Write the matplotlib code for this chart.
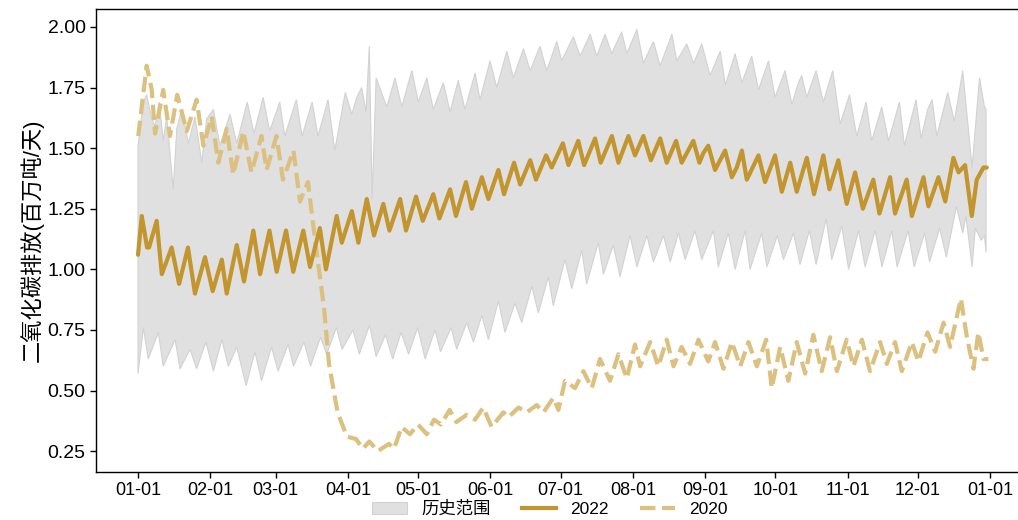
import numpy as np
import matplotlib
matplotlib.use("Agg")
import matplotlib.pyplot as plt
from matplotlib.patches import Patch
from matplotlib.lines import Line2D

plt.rcParams["font.family"] = ["Liberation Sans", "Noto Sans CJK SC", "DejaVu Sans"]

# daily CO2 emissions, Mt/day, x = day of year
month_labels = ["01-01", "02-01", "03-01", "04-01", "05-01", "06-01", "07-01",
                "08-01", "09-01", "10-01", "11-01", "12-01", "01-01"]
month_days = [0, 31, 59, 90, 120, 151, 181, 212, 243, 273, 304, 334, 365]

hist_hi_day = [0, 2.3, 3.7, 5.9, 7.3, 9.1, 10.8, 12.3, 15.1, 16.6, 18.7, 21.6, 24.4, 27.3,
               29.4, 32.3, 35.1, 39.4, 42.3, 46.8, 49.7, 53.6, 56.4, 60.7, 62.9, 67.8,
               70.3, 74.6, 77.1, 81.4, 84.3, 88.8, 91.6, 93.7, 95.8, 97.7, 99.1, 100.3,
               102.0, 106.6, 110.1, 113.0, 117.3, 120.1, 123.7, 126.5, 130.8, 133.7,
               137.2, 140.1, 144.4, 146.5, 150.8, 153.7, 158.0, 160.8, 165.1, 168.0,
               172.2, 175.1, 179.4, 181.5, 186.5, 189.4, 193.7, 196.5, 200.1, 202.9,
               207.2, 209.4, 213.7, 216.5, 220.8, 223.7, 228.7, 230.8, 235.1, 238.0,
               241.5, 245.1, 249.4, 251.6, 255.8, 258.7, 262.9, 265.8, 270.1, 272.9,
               277.2, 280.1, 282.9, 284.3, 286.5, 290.5, 293.6, 297.6, 300.8, 304.8,
               307.9, 311.9, 314.3, 318.6, 321.5, 326.2, 328.3, 333.3, 335.5, 338.3,
               340.2, 342.2, 346.9, 349.7, 353.3, 357.3, 360.5, 362.6, 363.3]
hist_hi = [1.51, 1.69, 1.72, 1.62, 1.59, 1.69, 1.53, 1.63, 1.33, 1.58, 1.66, 1.52, 1.63, 1.44,
           1.62, 1.66, 1.51, 1.64, 1.52, 1.69, 1.56, 1.71, 1.57, 1.69, 1.55, 1.70,
           1.55, 1.69, 1.55, 1.70, 1.49, 1.73, 1.64, 1.71, 1.75, 1.65, 1.92, 1.29,
           1.79, 1.67, 1.79, 1.67, 1.82, 1.69, 1.79, 1.66, 1.77, 1.65,
           1.78, 1.66, 1.81, 1.70, 1.86, 1.75, 1.90, 1.79, 1.91, 1.82,
           1.92, 1.82, 1.94, 1.86, 1.96, 1.88, 1.97, 1.88, 1.97, 1.89,
           1.98, 1.89, 1.99, 1.85, 1.94, 1.84, 1.97, 1.86, 1.93, 1.85,
           1.93, 1.80, 1.90, 1.76, 1.89, 1.77, 1.88, 1.74, 1.86, 1.71,
           1.82, 1.68, 1.77, 1.80, 1.71, 1.82, 1.69, 1.82, 1.60, 1.72,
           1.55, 1.69, 1.53, 1.67, 1.53, 1.69, 1.51, 1.70, 1.54, 1.66,
           1.70, 1.55, 1.73, 1.61, 1.82, 1.42, 1.79, 1.67, 1.66]

hist_lo_day = [0, 2.3, 4.4, 8.7, 10.8, 15.9, 18.0, 22.3, 25.1, 29.1, 32.3, 35.9, 38.7, 42.3,
               46.3, 50.1, 52.9, 57.2, 60.0, 64.3, 66.6, 71.1, 73.9, 78.2, 80.8, 85.0,
               87.4, 92.1, 94.8, 99.2, 102.0, 106.0, 109.1, 112.7, 115.9, 119.8, 123.0,
               127.2, 129.6, 134.1, 136.5, 140.8, 143.7, 147.3, 150.1, 154.4, 157.2,
               161.5, 164.4, 168.7, 171.5, 175.8, 177.9, 182.9, 185.8, 190.1, 192.2,
               197.2, 199.4, 203.6, 206.5, 210.8, 213.7, 218.0, 220.8, 225.1, 228.0,
               231.5, 234.4, 238.6, 241.5, 246.5, 248.6, 252.9, 255.8, 260.1, 262.2,
               267.2, 269.4, 273.9, 276.5, 280.8, 283.6, 287.6, 290.5, 294.8, 297.2,
               301.5, 304.4, 308.7, 311.5, 315.8, 318.7, 322.9, 325.2, 329.9, 332.5,
               337.0, 339.1, 343.4, 346.3, 350.6, 353.3, 354.7, 357.3, 358.7, 361.2,
               362.6, 363.3]
hist_lo = [0.57, 0.76, 0.63, 0.74, 0.60, 0.71, 0.59, 0.67, 0.59, 0.70, 0.58, 0.71, 0.60, 0.68,
           0.52, 0.66, 0.54, 0.68, 0.58, 0.69, 0.60, 0.70, 0.60, 0.72, 0.65, 0.76,
           0.67, 0.75, 0.65, 0.77, 0.64, 0.73, 0.63, 0.74, 0.65, 0.76, 0.63,
           0.75, 0.66, 0.76, 0.67, 0.78, 0.70, 0.81, 0.71, 0.87, 0.74,
           0.86, 0.78, 0.93, 0.82, 0.97, 0.85, 1.04, 0.92, 1.08, 0.94,
           1.11, 0.98, 1.10, 0.97, 1.14, 1.01, 1.14, 1.03, 1.14, 1.03,
           1.15, 1.04, 1.16, 1.04, 1.16, 1.01, 1.15, 1.00, 1.16, 1.00,
           1.15, 1.01, 1.14, 1.04, 1.15, 1.02, 1.16, 1.02, 1.21, 1.04,
           1.18, 1.00, 1.16, 1.01, 1.16, 1.01, 1.16, 1.01, 1.16, 1.01,
           1.15, 1.03, 1.17, 1.05, 1.26, 1.15, 1.22, 1.01, 1.17, 1.12,
           1.14, 1.07]

y2022_day = [0, 1.6, 3.9, 4.7, 8.0, 10.2, 14.4, 17.6, 21.4, 24.4, 28.7, 32.0, 35.9, 38.0,
             42.3, 45.4, 49.4, 52.3, 56.3, 59.4, 63.4, 66.5, 70.8, 73.7, 77.9, 80.5,
             85.1, 87.3, 91.6, 94.4, 98.0, 101.1, 105.1, 107.7, 112.3, 114.8, 119.1,
             122.0, 126.5, 129.1, 133.7, 136.2, 140.5, 143.0, 147.3, 150.1, 154.4,
             156.8, 161.1, 163.7, 168.0, 170.5, 174.8, 177.2, 182.0, 184.4, 188.6,
             191.1, 195.8, 198.2, 203.0, 205.8, 210.1, 212.9, 216.5, 219.7, 223.7,
             226.5, 230.5, 232.9, 237.9, 240.5, 242.2, 244.3, 247.2, 251.5, 254.4,
             256.5, 258.7, 260.8, 265.8, 268.6, 272.9, 275.8, 279.4, 282.2, 286.5,
             289.6, 293.6, 296.2, 300.0, 303.6, 307.2, 310.5, 315.0, 317.6, 322.2,
             324.3, 329.3, 331.5, 336.5, 338.6, 342.9, 345.8, 349.3, 351.5, 354.3,
             357.2, 359.3, 362.2, 363.6]
y2022 = [1.06, 1.22, 1.09, 1.09, 1.20, 0.98, 1.09, 0.94, 1.09, 0.90, 1.05, 0.91, 1.04, 0.90,
         1.10, 0.95, 1.16, 0.98, 1.16, 0.99, 1.16, 0.99, 1.16, 1.01, 1.17, 1.00,
         1.22, 1.11, 1.24, 1.11, 1.29, 1.14, 1.27, 1.16, 1.29, 1.16, 1.30,
         1.20, 1.31, 1.21, 1.33, 1.22, 1.36, 1.25, 1.38, 1.29, 1.41,
         1.31, 1.44, 1.35, 1.45, 1.37, 1.47, 1.42, 1.52, 1.43, 1.53,
         1.43, 1.54, 1.44, 1.55, 1.44, 1.55, 1.47, 1.55, 1.45, 1.54,
         1.44, 1.53, 1.44, 1.53, 1.44, 1.48, 1.51, 1.41, 1.49, 1.38,
         1.42, 1.49, 1.37, 1.47, 1.36, 1.47, 1.32, 1.44, 1.32, 1.46,
         1.31, 1.47, 1.33, 1.45, 1.27, 1.40, 1.25, 1.37, 1.23, 1.38,
         1.23, 1.37, 1.22, 1.38, 1.26, 1.38, 1.28, 1.46, 1.40, 1.43,
         1.22, 1.37, 1.42, 1.42]

y2020_day = [0.1, 3.7, 5.9, 7.3, 10.8, 13.7, 16.8, 20.9, 25.1, 28.0, 31.6, 34.4, 38.0, 40.8,
             45.1, 48.6, 52.9, 55.1, 59.3, 62.1, 66.6, 69.4, 72.8, 76.0, 79.7, 81.8,
             85.5, 89.5, 93.4, 96.3, 99.1, 102.7, 107.5, 109.7, 112.9, 116.5, 120.0,
             123.7, 126.8, 129.8, 133.5, 136.4, 140.8, 144.4, 147.9, 151.5, 156.5,
             158.7, 163.0, 166.5, 170.8, 173.7, 177.9, 180.1, 182.9, 187.2, 190.8,
             194.4, 197.9, 202.2, 205.8, 209.4, 212.9, 215.1, 219.4, 222.9, 226.5,
             229.4, 232.9, 236.5, 240.1, 244.3, 247.2, 250.8, 254.4, 258.0, 261.5,
             265.1, 269.1, 271.5, 275.1, 278.6, 282.2, 285.8, 289.3, 292.9, 296.5,
             299.4, 303.6, 306.5, 310.1, 313.6, 317.9, 320.8, 324.3, 327.2, 331.5,
             334.3, 338.2, 341.5, 345.1, 347.9, 352.5, 355.1, 357.9, 360.0, 362.2,
             364.3]
y2020 = [1.55, 1.84, 1.74, 1.56, 1.74, 1.55, 1.72, 1.57, 1.70, 1.51, 1.63, 1.44, 1.58, 1.39,
         1.57, 1.40, 1.55, 1.41, 1.55, 1.37, 1.49, 1.28, 1.36, 1.11, 0.84, 0.61,
         0.41, 0.31, 0.30, 0.26, 0.29, 0.25, 0.28, 0.26, 0.35, 0.32, 0.36,
         0.32, 0.38, 0.36, 0.42, 0.37, 0.40, 0.38, 0.43, 0.35, 0.41,
         0.39, 0.43, 0.41, 0.44, 0.41, 0.47, 0.42, 0.54, 0.51, 0.58,
         0.51, 0.63, 0.54, 0.65, 0.55, 0.69, 0.60, 0.70, 0.60, 0.71,
         0.60, 0.68, 0.61, 0.71, 0.62, 0.70, 0.59, 0.70, 0.60, 0.70,
         0.60, 0.71, 0.51, 0.68, 0.54, 0.70, 0.57, 0.73, 0.58, 0.72,
         0.58, 0.71, 0.60, 0.71, 0.58, 0.70, 0.61, 0.70, 0.58, 0.70,
         0.62, 0.74, 0.66, 0.78, 0.68, 0.88, 0.72, 0.59, 0.74, 0.63,
         0.63]

c_2022 = "#c3952f"
c_2020 = "#dcc07f"
c_band = "#e0e0e0"

fig = plt.figure(figsize=(10.18, 5.2), dpi=100)
ax = fig.add_axes([0.0943, 0.0923, 0.9195, 0.8904])

# historical range as a closed polygon: upper edge forward, lower edge back
band_x = list(hist_hi_day) + list(hist_lo_day[::-1])
band_y = list(hist_hi) + list(hist_lo[::-1])
ax.fill(band_x, band_y, facecolor=c_band, edgecolor="#d2d2d2", linewidth=0.8, zorder=1)

ax.plot(y2022_day, y2022, color=c_2022, linewidth=3, zorder=3,
        solid_joinstyle="round", solid_capstyle="round")
ax.plot(y2020_day, y2020, color=c_2020, linewidth=3, linestyle="--", zorder=2,
        dash_joinstyle="round")

ax.set_xlim(-18, 383)
ax.set_ylim(0.164, 2.074)
ax.set_xticks(month_days)
ax.set_xticklabels(month_labels, fontsize=13)
ax.set_yticks([0.25, 0.5, 0.75, 1.0, 1.25, 1.5, 1.75, 2.0])
ax.set_yticklabels(["0.25", "0.50", "0.75", "1.00", "1.25", "1.50", "1.75", "2.00"], fontsize=14)
ax.tick_params(direction="out", length=4, width=1, color="black")
ax.set_ylabel("二氧化碳排放(百万吨/天)", fontsize=16, labelpad=3)
ax.spines["right"].set_visible(False)
for s in ["left", "bottom", "top"]:
    ax.spines[s].set_linewidth(1)

handles = [Patch(facecolor=c_band, edgecolor="#d2d2d2", linewidth=0.8),
           Line2D([], [], color=c_2022, linewidth=3),
           Line2D([], [], color=c_2020, linewidth=3, linestyle="--")]
fig.legend(handles, ["历史范围", "2022", "2020"], loc="center",
           bbox_to_anchor=(0.540, 0.021), ncol=3, frameon=False, fontsize=12.5,
           handlelength=2.0, columnspacing=1.8, handletextpad=0.8)

fig.savefig("out.png", dpi=100)
